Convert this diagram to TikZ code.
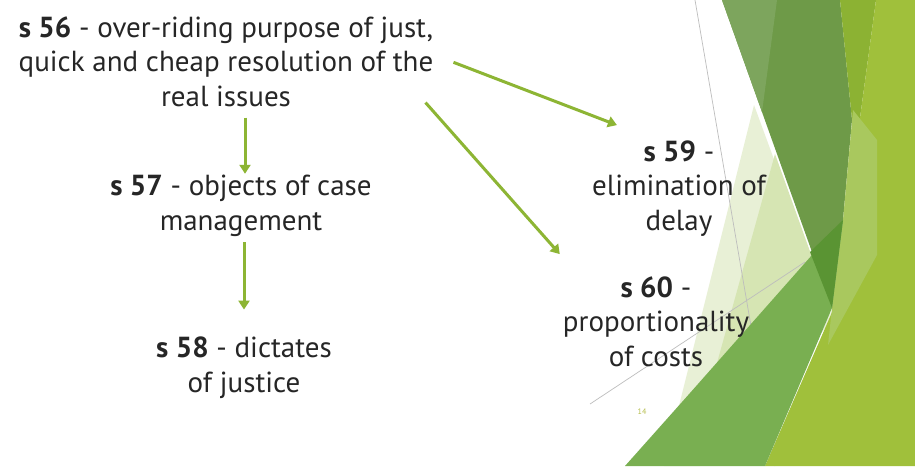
\documentclass[tikz,border=0pt]{standalone}
\usepackage{fontspec}
\setmainfont{PT Sans}
\usetikzlibrary{arrows.meta}

% palette of the slide theme
\definecolor{ink}{HTML}{262626}
\definecolor{arrowgreen}{HTML}{8DB534}
\definecolor{pagenum}{HTML}{B7BF4F}
\definecolor{paleA}{HTML}{E8F0D6}
\definecolor{paleB}{HTML}{D6E5B3}
\definecolor{darkleaf}{HTML}{6E9A48}
\definecolor{greyleaf}{HTML}{7DA55D}
\definecolor{oliveleaf}{HTML}{8CB233}
\definecolor{limeleaf}{HTML}{A0C03B}
\definecolor{stripeleaf}{HTML}{A9C85E}
\definecolor{midleaf}{HTML}{79AF51}
\definecolor{deepleaf}{HTML}{5A9433}
\definecolor{hairline}{HTML}{BDBDBD}

\tikzset{
  label/.style={font=\fontsize{29}{34.5}\selectfont, text=ink, align=center,
                inner sep=0pt, anchor=base},
  arr/.style={draw=arrowgreen, line width=3pt,
              -{Triangle[length=9pt,width=11pt]}},
  facet/.style={draw=none},
  thin/.style={draw=hairline, line width=0.7pt}
}

\begin{document}
\begin{tikzpicture}[x=1pt,y=-1pt]
\useasboundingbox (0,0) rectangle (915,466);
\fill[white] (0,0) rectangle (915,466);

% decorative facets on the right
\fill[facet, paleA] (754,105) -- (833,320) -- (700,466) -- (664,466) -- cycle;
\fill[facet, paleB] (775,154) -- (812,257) -- (717,363) -- cycle;
\draw[thin] (695,0) -- (775,466);
\draw[thin] (590,404) -- (805,262);
\fill[facet, darkleaf] (722,0) -- (840,0) -- (852,120) -- (843,220) -- (832,308) -- cycle;
\fill[facet, greyleaf] (722,0) -- (777,0) -- (762,112) -- cycle;
\fill[facet, oliveleaf] (840,0) -- (876,0) -- (857,140) -- (852,120) -- cycle;
\fill[facet, limeleaf] (876,0) -- (915,0) -- (915,466) -- (765,466) -- (833,310) -- (857,140) -- cycle;
\fill[facet, stripeleaf] (853,110) -- (877,140) -- (877,255) -- (828,345) -- (832,308) -- (843,220) -- cycle;
\fill[facet, midleaf] (625,466) -- (690,393) -- (812,255) -- (843,220) -- (832,308) -- (765,466) -- cycle;
\fill[facet, deepleaf] (810,252) -- (843,220) -- (832,308) -- cycle;

% section boxes (anchored on the baseline of their last line)
\node[label] (s56) at (226,106) {\textbf{s 56} - over-riding purpose of just,\\quick and cheap resolution of the\\real issues};
\node[label] (s57) at (241,230) {\textbf{s 57} - objects of case\\management};
\node[label] (s58) at (244,392) {\textbf{s 58} - dictates\\of justice};
\node[label] (s59) at (679,230) {\textbf{s 59} -\\elimination of\\delay};
\node[label] (s60) at (656,366) {\textbf{s 60} -\\proportionality\\of costs};

\node[font=\fontsize{8}{9}\selectfont, text=pagenum, inner sep=0pt] (pg) at (642,412) {14};

% connectors
\draw[arr] (s56.south -| s57.north) ++(4,11) -- ([xshift=4pt,yshift=1pt]s57.north);
\draw[arr] (s57.south -| s58.north) ++(0,6) -- ([yshift=27pt]s58.north);
\draw[arr] ([xshift=20pt,yshift=-1pt]s56.east) -- ([xshift=25pt,yshift=15pt]s59.north west);
\draw[arr] ([xshift=-8pt,yshift=4pt]s56.south east) -- ([xshift=-3pt,yshift=22pt]s60.north west);
\end{tikzpicture}
\end{document}
